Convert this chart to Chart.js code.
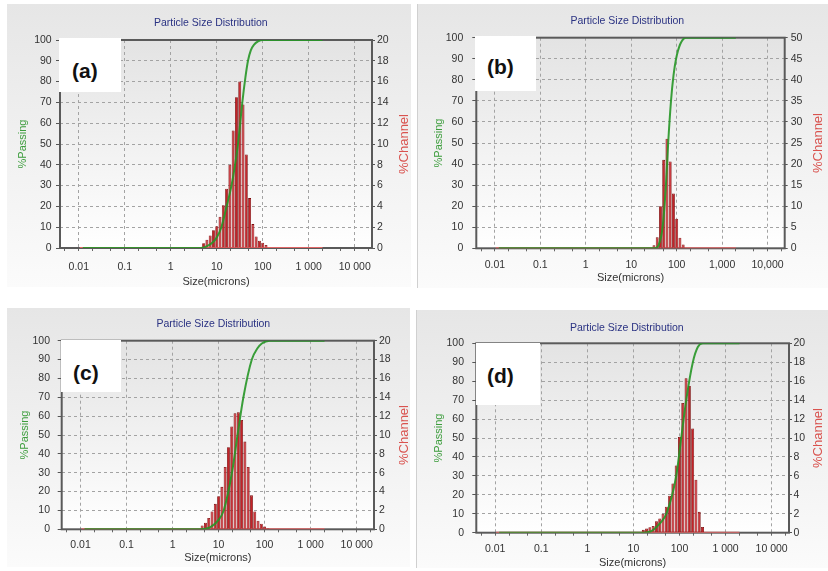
<!DOCTYPE html>
<html>
<head>
<meta charset="utf-8">
<title>Particle Size Distribution</title>
<script src="https://cdn.jsdelivr.net/npm/chart.js@4.4.1/dist/chart.umd.min.js"></script>
<style>
  body { margin: 0; width: 828px; height: 571px; position: relative; overflow: hidden; background: #fff; }
  .panel { position: absolute; background: linear-gradient(#e6e6e6, #fbfbfb); }
  .quad { position: absolute; }
  .tag { position: absolute; background: #fff; }
  .tag span { position: absolute; font: bold 21px "Liberation Sans", Arial, sans-serif; color: #111; line-height: 24px; }
</style>
</head>
<body>
<div class="panel" style="left:7px;top:4px;width:404px;height:283px"></div>
<div class="panel" style="left:417px;top:4px;width:411px;height:284px;border-left:1px solid #d0d0d0"></div>
<div class="panel" style="left:7px;top:308px;width:403px;height:259px"></div>
<div class="panel" style="left:416px;top:310px;width:412px;height:258px;border-left:1px solid #d0d0d0"></div>

<canvas id="chartA" class="quad" width="414" height="290" style="left:0;top:0"></canvas>
<canvas id="chartB" class="quad" width="414" height="290" style="left:414px;top:0"></canvas>
<canvas id="chartC" class="quad" width="414" height="281" style="left:0;top:290px"></canvas>
<canvas id="chartD" class="quad" width="414" height="281" style="left:414px;top:290px"></canvas>

<div class="tag" style="left:59px;top:38px;width:62px;height:54px"><span style="left:13px;top:21px">(a)</span></div>
<div class="tag" style="left:475px;top:36px;width:61px;height:55px"><span style="left:12px;top:19px">(b)</span></div>
<div class="tag" style="left:61px;top:340px;width:60px;height:52px"><span style="left:12px;top:21px">(c)</span></div>
<div class="tag" style="left:476px;top:343px;width:64px;height:62px"><span style="left:11px;top:21px">(d)</span></div>

<script>
// instrument channels (microns), shared by all four samples
const channelSizes = [4.39, 5.18, 6.11, 7.20, 8.48, 10.0, 11.79, 13.89, 16.38, 19.31, 22.76, 26.83, 31.62,
  37.28, 43.94, 51.79, 61.05, 71.97, 84.83, 100, 117.9, 138.9, 163.8, 193.1, 227.6, 268.3, 316.2];

// %Channel per sample, aligned with channelSizes
const channelA = [0, 0.45, 0.8, 1.2, 1.7, 2.1, 3.0, 4.1, 5.7, 8.0, 11.3, 14.5, 16.0,
  13.8, 9.0, 4.8, 2.3, 1.1, 0.7, 0.5, 0.3, 0, 0, 0, 0, 0, 0];
const channelB = [0, 0, 0, 0, 0, 0, 0, 0, 0, 0, 0, 0, 0.7,
  2.6, 10, 21, 26, 20.6, 13, 7, 2.5, 0.9, 0, 0, 0, 0, 0];
const channelC = [0.4, 0.7, 1.2, 1.9, 2.7, 3.5, 4.5, 6.6, 8.7, 10.9, 12.3, 12.4, 11.6,
  9.3, 6.6, 3.6, 1.9, 0.9, 0.6, 0.3, 0.1, 0, 0, 0, 0, 0, 0];
const channelD = [0, 0, 0, 0, 0, 0, 0, 0, 0.3, 0.45, 0.57, 0.7, 1.2,
  1.5, 2.0, 2.75, 3.9, 5.2, 7.1, 10.1, 13.7, 16.3, 15.5, 11.0, 5.6, 2.2, 0.6];

// %Passing curves
const passSizesA = [0.0122, 4.5, 6, 8, 10, 12.6, 16, 20.9, 25, 29, 36, 42, 47.8, 55, 65, 79, 100, 2000];
const passingA   = [0, 0, 0.8, 2.5, 5, 10, 19, 30, 40, 50, 70, 82, 90, 95, 97.8, 99.3, 100, 100];
const passSizesB = [0.0122, 33, 40, 49, 58, 65, 75, 85, 97, 120, 161, 2000];
const passingB   = [0, 0, 1.5, 10, 30, 50, 70, 82, 90, 97, 100, 100];
const passSizesC = [0.0122, 4, 6.5, 10, 12.9, 19.5, 25.8, 34.6, 52.7, 70, 87, 128, 2000];
const passingC   = [0, 0, 1, 5, 10, 30, 50, 70, 90, 96, 98.5, 100, 100];
const passSizesD = [0.0122, 15, 25, 37.9, 52, 85, 109, 140, 195, 250, 320, 2000];
const passingD   = [0, 0, 1, 5, 10, 30, 50, 70, 90, 98, 100, 100];

// measured range of the channel trace (zero outside the bars)
const baselineSizes = [0.0105, 2000];
const baselineValues = [0, 0];

const decades = [0.01, 0.1, 1, 10, 100, 1000, 10000];
const sizeLabels = ['0.01', '0.1', '1', '10', '100', '1 000', '10 000'];
const sizeLabelsComma = ['0.01', '0.1', '1', '10', '100', '1,000', '10,000'];
const sizeMin = 0.0039;
const sizeMax = 23800;

const panels = [
  { canvas: 'chartA', channel: channelA, passSizes: passSizesA, passing: passingA, channelMax: 20, channelStep: 2, labels: sizeLabels,
    lay: { padLeft: 7.6, titleTop: 16.4, titleBottom: 11, leftW: 52.4, leftPad: 4.3, passPad: 8.8, rightW: 42, rightPad: 2, bottomH: 42, xPad: 9.7, xTitlePad: 1.7 } },
  { canvas: 'chartB', channel: channelB, passSizes: passSizesB, passing: passingB, channelMax: 50, channelStep: 5, labels: sizeLabelsComma,
    lay: { padLeft: 12.6, titleTop: 14.4, titleBottom: 10.7, leftW: 49.7, leftPad: 9, passPad: 5.8, rightW: 43.3, rightPad: 3, bottomH: 41.7, xPad: 7.7, xTitlePad: 5.1 } },
  { canvas: 'chartC', channel: channelC, passSizes: passSizesC, passing: passingC, channelMax: 20, channelStep: 2, labels: sizeLabels,
    lay: { padLeft: 12.6, titleTop: 28, titleBottom: 10.1, leftW: 49.1, leftPad: 7.7, passPad: 5.8, rightW: 40, rightPad: 2, bottomH: 41.7, xPad: 6.7, xTitlePad: 6.1 } },
  { canvas: 'chartD', channel: channelD, passSizes: passSizesD, passing: passingD, channelMax: 20, channelStep: 2, labels: sizeLabels,
    lay: { padLeft: 11.6, titleTop: 31.4, titleBottom: 9.3, leftW: 50.7, leftPad: 8.3, passPad: 6.8, rightW: 39, rightPad: 1.5, bottomH: 38.3, xPad: 7.3, xTitlePad: 1.1 } }
];

Chart.defaults.font.family = '"Liberation Sans", Arial, sans-serif';
Chart.defaults.font.size = 10.5;
Chart.defaults.color = '#333';

// grey-to-white fill behind the plot
const plotBackground = {
  id: 'plotBackground',
  beforeDraw(chart) {
    const { ctx, chartArea: a } = chart;
    const g = ctx.createLinearGradient(0, a.top, 0, a.bottom);
    g.addColorStop(0, '#e3e3e3');
    g.addColorStop(1, '#ffffff');
    ctx.save();
    ctx.fillStyle = g;
    ctx.fillRect(a.left, a.top, a.right - a.left, a.bottom - a.top);
    ctx.restore();
  }
};

// dark box round the plot, under the data
const plotFrame = {
  id: 'plotFrame',
  beforeDatasetsDraw(chart) {
    const { ctx, chartArea: a } = chart;
    ctx.save();
    ctx.strokeStyle = '#5a5a5a';
    ctx.lineWidth = 2;
    ctx.strokeRect(a.left, a.top, a.right - a.left, a.bottom - a.top);
    ctx.restore();
  }
};

// right-hand axis title, reading bottom to top
const channelTitle = {
  id: 'channelTitle',
  afterDraw(chart) {
    const { ctx, chartArea: a } = chart;
    ctx.save();
    ctx.translate(chart.width - 9.5, (a.top + a.bottom) / 2);
    ctx.rotate(-Math.PI / 2);
    ctx.font = '13px "Liberation Sans", Arial, sans-serif';
    ctx.fillStyle = '#d9534f';
    ctx.textAlign = 'center';
    ctx.textBaseline = 'middle';
    ctx.fillText('%Channel', 0, 0);
    ctx.restore();
  }
};

function sizeTicks(scale) {
  const out = [];
  [0.001].concat(decades).forEach(d => { out.push(d, d * 2, d * 5); });
  return out.filter(v => v >= scale.min && v <= scale.max).map(v => ({ value: v }));
}

function makeChart(p) {
  const lay = p.lay;
  const bars = channelSizes
    .map((s, i) => ({ x: s, y: p.channel[i] }))
    .filter(pt => pt.y > 0);

  new Chart(document.getElementById(p.canvas), {
    type: 'bar',
    data: {
      datasets: [
        {
          type: 'line',
          data: p.passSizes.map((s, i) => ({ x: s, y: p.passing[i] })),
          yAxisID: 'y',
          borderColor: 'rgba(38, 150, 38, 0.9)',
          borderWidth: 2,
          pointRadius: 0,
          cubicInterpolationMode: 'monotone',
          order: 1
        },
        {
          data: bars,
          yAxisID: 'y1',
          backgroundColor: '#c42228',
          borderColor: '#7a0b0b',
          borderWidth: { left: 0.8, right: 0.8, top: 0.8, bottom: 0 },
          borderSkipped: false,
          barPercentage: 0.9,
          categoryPercentage: 1.0,
          order: 2
        },
        {
          type: 'line',
          data: baselineSizes.map((s, i) => ({ x: s, y: baselineValues[i] })),
          yAxisID: 'y1',
          borderColor: '#e06666',
          borderWidth: 2,
          pointRadius: 0,
          order: 3
        }
      ]
    },
    options: {
      responsive: false,
      animation: false,
      layout: { padding: { left: lay.padLeft, right: 0, top: 0, bottom: 0 } },
      plugins: {
        legend: { display: false },
        tooltip: { enabled: false },
        title: {
          display: true,
          text: 'Particle Size Distribution',
          color: '#2b3383',
          font: { size: 10.5, weight: 'normal' },
          padding: { top: lay.titleTop, bottom: lay.titleBottom }
        }
      },
      scales: {
        x: {
          type: 'logarithmic',
          min: sizeMin,
          max: sizeMax,
          offset: false,
          afterBuildTicks(scale) { scale.ticks = sizeTicks(scale); },
          afterFit(scale) { scale.height = lay.bottomH; },
          ticks: {
            autoSkip: false,
            maxRotation: 0,
            padding: lay.xPad,
            callback(v) {
              const i = decades.indexOf(v);
              return i < 0 ? '' : p.labels[i];
            }
          },
          grid: {
            offset: false,
            color: c => (c.tick && decades.includes(c.tick.value)) ? '#a3a3a3' : 'rgba(0,0,0,0)',
            tickColor: '#666',
            tickLength: 3
          },
          border: { display: false, dash: [3, 3] },
          title: {
            display: true,
            text: 'Size(microns)',
            color: '#333',
            font: { size: 11 },
            padding: { top: 0, bottom: lay.xTitlePad }
          }
        },
        y: {
          position: 'left',
          min: 0,
          max: 100,
          afterFit(scale) { scale.width = lay.leftW; },
          ticks: { stepSize: 10, padding: lay.leftPad },
          grid: { color: '#a3a3a3', tickColor: '#555', tickLength: 4 },
          border: { display: false, dash: [3, 3] },
          title: {
            display: true,
            text: '%Passing',
            color: '#3d9d3d',
            font: { size: 11 },
            padding: { top: lay.passPad, bottom: 0 }
          }
        },
        y1: {
          position: 'right',
          min: 0,
          max: p.channelMax,
          afterFit(scale) { scale.width = lay.rightW; },
          ticks: { stepSize: p.channelStep, padding: lay.rightPad },
          grid: { drawOnChartArea: false, tickColor: '#555', tickLength: 3 },
          border: { display: false }
        }
      }
    },
    plugins: [plotBackground, plotFrame, channelTitle]
  });
}

document.addEventListener('DOMContentLoaded', function () {
  if (typeof Chart === 'undefined') {
    console.error('Chart.js not loaded');
    return;
  }
  panels.forEach(makeChart);
});
</script>
</body>
</html>
